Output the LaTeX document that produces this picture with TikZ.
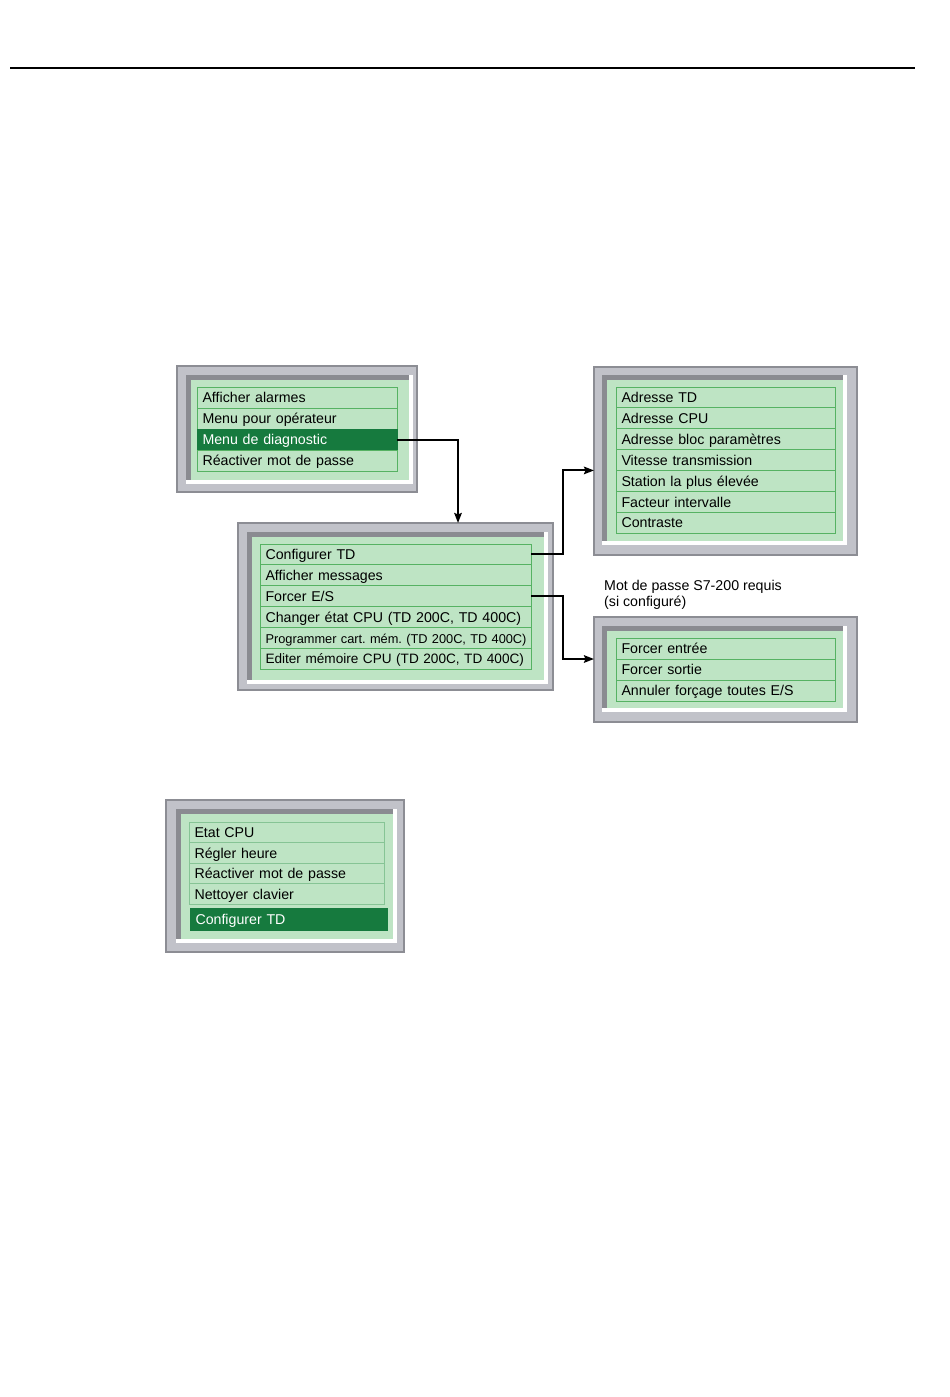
\documentclass[tikz,border=0pt]{standalone}
\usepackage{fontspec}
\setmainfont{Liberation Sans}
\usetikzlibrary{arrows.meta}
\frenchspacing
\definecolor{framegray}{RGB}{193,194,201}
\definecolor{framedark}{RGB}{140,141,148}
\definecolor{bevelgray}{RGB}{138,139,145}
\definecolor{panelgreen}{RGB}{190,228,196}
\definecolor{itemgreen}{RGB}{86,178,99}
\definecolor{itemlight}{RGB}{134,196,149}
\definecolor{hlgreen}{RGB}{22,122,62}
\newcommand\rowfont{\fontsize{14.2}{17}\selectfont}
\newcommand\midrowfont{\fontsize{13.6}{17}\selectfont}
\newcommand\smallrowfont{\fontsize{12.8}{15}\selectfont}
\newcommand\bevelbox[4]{%
  \fill[white] (#1,#2) rectangle (#3,#4);
  \fill[bevelgray] (#1,#2) rectangle ({#3-4},{#4-4});
  \fill[panelgreen] ({#1+5},{#2+5}) rectangle ({#3-4},{#4-4});}
\tikzset{
  frame/.style={draw=framedark, line width=2pt, fill=framegray, anchor=north west,
    inner sep=0pt, outer sep=0pt},
  row/.style={draw=itemgreen, line width=0.8pt, anchor=north west, inner xsep=5.5pt,
    inner ysep=0pt, outer sep=0pt, text height=10.8pt, text depth=0pt, align=left,
    font=\rowfont, text=black},
  hl/.style={row, fill=hlgreen, draw=hlgreen, text=white},
  conn/.style={draw=black, line width=2pt, -{Stealth[length=10pt,width=7.5pt,inset=1.5pt]}},
  note/.style={anchor=base west, inner sep=0pt, font=\rowfont, align=left}
}
\begin{document}
\begin{tikzpicture}[x=1pt,y=-1pt]
\useasboundingbox (0,0) rectangle (950,1397);
\fill[white] (0,0) rectangle (950,1397);
% top rule
\draw[line width=1.3pt] (10,68) -- (915,68);

% ---------- panel 1 ----------
\node[frame, minimum width=240pt, minimum height=126pt] (p1) at (177,366) {};
\bevelbox{186}{375}{413}{484}
\node[row, text width=189pt, minimum height=21pt] (r11) at (197,387) {Afficher alarmes};
\node[row, text width=189pt, minimum height=21pt] (r12) at (197,408) {Menu pour opérateur};
\node[hl, text width=189pt, minimum height=21pt] (r13) at (197,429) {Menu de diagnostic};
\node[row, text width=189pt, minimum height=21pt] (r14) at (197,450) {Réactiver mot de passe};

% ---------- panel 2 ----------
\node[frame, minimum width=315pt, minimum height=167pt] (p2) at (238,523) {};
\bevelbox{247}{532}{548}{684}
\node[row, text width=260pt, minimum height=20.83pt] (r21) at (260,544) {Configurer TD};
\node[row, text width=260pt, minimum height=20.83pt] (r22) at (260,564.83) {Afficher messages};
\node[row, text width=260pt, minimum height=20.83pt] (r23) at (260,585.67) {Forcer E/S};
\node[row, text width=260pt, minimum height=20.83pt] (r24) at (260,606.5) {\mbox{Changer état CPU (TD 200C, TD 400C)}};
\node[row, text width=260pt, minimum height=20.83pt, font=\smallrowfont] (r25) at (260,627.33) {\mbox{Programmer cart. mém. (TD 200C, TD 400C)}};
\node[row, text width=260pt, minimum height=20.83pt, font=\midrowfont] (r26) at (260,648.17) {\mbox{Editer mémoire CPU (TD 200C, TD 400C)}};

% ---------- panel 3 ----------
\node[frame, minimum width=263pt, minimum height=188pt] (p3) at (594,367) {};
\bevelbox{602}{375}{847}{545}
\node[row, text width=208pt, minimum height=20.86pt] (r31) at (616,387) {Adresse TD};
\node[row, text width=208pt, minimum height=20.86pt] (r32) at (616,407.86) {Adresse CPU};
\node[row, text width=208pt, minimum height=20.86pt] (r33) at (616,428.71) {Adresse bloc paramètres};
\node[row, text width=208pt, minimum height=20.86pt] (r34) at (616,449.57) {Vitesse transmission};
\node[row, text width=208pt, minimum height=20.86pt] (r35) at (616,470.43) {Station la plus élevée};
\node[row, text width=208pt, minimum height=20.86pt] (r36) at (616,491.29) {Facteur intervalle};
\node[row, text width=208pt, minimum height=20.86pt] (r37) at (616,512.14) {Contraste};

% ---------- note ----------
\node[note] (n1) at (604,590.5) {Mot de passe S7-200 requis};
\node[note] (n2) at (604,606.5) {(si configuré)};

% ---------- panel 4 ----------
\node[frame, minimum width=263pt, minimum height=105pt] (p4) at (594,617) {};
\bevelbox{602}{626}{847}{712}
\node[row, text width=208pt, minimum height=21pt] (r41) at (616,638) {Forcer entrée};
\node[row, text width=208pt, minimum height=21pt] (r42) at (616,659) {Forcer sortie};
\node[row, text width=208pt, minimum height=21pt] (r43) at (616,680) {Annuler forçage toutes E/S};

% ---------- panel 5 ----------
\node[frame, minimum width=238pt, minimum height=152pt] (p5) at (166,800) {};
\bevelbox{176}{809}{397}{943}
\node[row, draw=itemlight, text width=184pt, minimum height=20.5pt] (r51) at (189,822) {Etat CPU};
\node[row, draw=itemlight, text width=184pt, minimum height=20.5pt] (r52) at (189,842.5) {Régler heure};
\node[row, draw=itemlight, text width=184pt, minimum height=20.5pt] (r53) at (189,863) {Réactiver mot de passe};
\node[row, draw=itemlight, text width=184pt, minimum height=20.5pt] (r54) at (189,883.5) {Nettoyer clavier};
\node[hl, text width=186pt, minimum height=22pt] (r55) at (190,908) {Configurer TD};

% ---------- connectors ----------
\draw[conn] (r13.east) -| ([xshift=220pt]p2.north west);
\draw[conn] (r21.east) -- ++(32,0) |- (p3.west |- r34.south);
\draw[conn] (r23.east) -- ++(32,0) |- (p4.west |- r41.south);
\end{tikzpicture}
\end{document}
